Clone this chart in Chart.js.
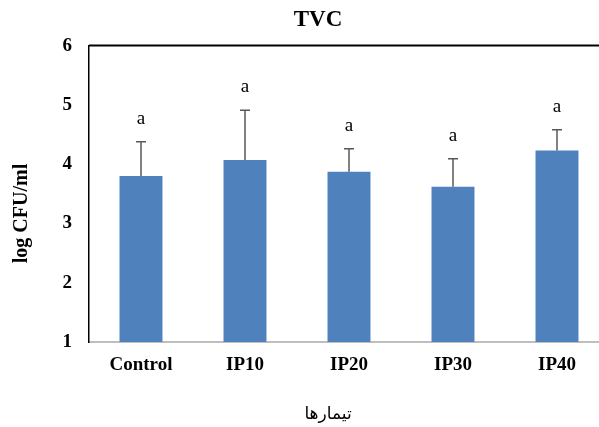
<!DOCTYPE html>
<html>
<head>
<meta charset="utf-8">
<script src="https://cdn.jsdelivr.net/npm/chart.js@4.4.1/dist/chart.umd.min.js"></script>
<style>
  html, body { margin: 0; padding: 0; background: #fff; overflow: hidden; }
  #wrap { width: 599px; height: 427px; overflow: hidden; }
</style>
</head>
<body>
<div id="wrap"><canvas id="myChart" width="636" height="427"></canvas></div>
<script>
const treatments = ['Control', 'IP10', 'IP20', 'IP30', 'IP40'];
const meanValues = [3.80, 4.07, 3.87, 3.62, 4.23];
const errorValues = [0.58, 0.84, 0.39, 0.47, 0.35];
const letters = ['a', 'a', 'a', 'a', 'a'];
const yTicks = [1, 2, 3, 4, 5, 6];

const serif = "'Liberation Serif', 'Times New Roman', 'DejaVu Sans', serif";

// error bars, letters, top frame line and axis titles
const extras = {
    id: 'extras',
    afterDatasetsDraw(chart) {
        const ctx = chart.ctx;
        const area = chart.chartArea;
        const yScale = chart.scales.y;
        const meta = chart.getDatasetMeta(0);
        ctx.save();

        // top frame line
        ctx.strokeStyle = '#000';
        ctx.lineWidth = 2;
        ctx.beginPath();
        ctx.moveTo(area.left, area.top);
        ctx.lineTo(area.right, area.top);
        ctx.stroke();

        meta.data.forEach((bar, i) => {
            const yBar = yScale.getPixelForValue(meanValues[i]);
            const yErr = yScale.getPixelForValue(meanValues[i] + errorValues[i]);
            ctx.strokeStyle = '#595959';
            ctx.lineWidth = 1.5;
            ctx.beginPath();
            ctx.moveTo(bar.x, yBar);
            ctx.lineTo(bar.x, yErr);
            ctx.moveTo(bar.x - 5, yErr);
            ctx.lineTo(bar.x + 5, yErr);
            ctx.stroke();

            ctx.fillStyle = '#000';
            ctx.font = '19px ' + serif;
            ctx.textAlign = 'center';
            ctx.textBaseline = 'middle';
            ctx.fillText(letters[i], bar.x, yErr - 23);
        });

        // axis titles
        ctx.fillStyle = '#000';
        ctx.textAlign = 'center';
        ctx.textBaseline = 'middle';
        ctx.font = 'bold 20px ' + serif;
        ctx.save();
        ctx.translate(21.5, 213.5);
        ctx.rotate(-Math.PI / 2);
        ctx.fillText('log CFU/ml', 0, 0);
        ctx.restore();

        ctx.font = '17px ' + serif;
        ctx.fillText('تیمارها', 328, 415);
        ctx.restore();
    }
};

const config = {
    type: 'bar',
    data: {
        labels: treatments,
        datasets: [{
            label: 'TVC',
            data: meanValues,
            backgroundColor: '#4F81BD',
            categoryPercentage: 1,
            barPercentage: 0.413
        }]
    },
    options: {
        responsive: false,
        animation: false,
        layout: { padding: { left: 27, right: 27, top: 0, bottom: 0 } },
        plugins: {
            legend: { display: false },
            tooltip: { enabled: false },
            title: {
                display: true,
                text: 'TVC',
                color: '#000',
                font: { family: serif, size: 23, weight: 'bold' },
                padding: { top: 6, bottom: 12 }
            }
        },
        scales: {
            x: {
                grid: { display: false, drawTicks: false },
                border: { color: '#bfbfbf', width: 2 },
                ticks: {
                    color: '#000',
                    padding: 12,
                    font: { family: serif, size: 19, weight: 'bold' }
                },
                afterFit: (scale) => { scale.height = 85; }
            },
            y: {
                min: 1,
                max: 6,
                grid: { display: false, drawTicks: false },
                border: { color: '#000', width: 1.5 },
                afterBuildTicks: (scale) => { scale.ticks = yTicks.map(v => ({ value: v })); },
                ticks: {
                    color: '#000',
                    padding: 17,
                    font: { family: serif, size: 19, weight: 'bold' }
                },
                afterFit: (scale) => { scale.width = 62; }
            }
        }
    },
    plugins: [extras]
};

new Chart(document.getElementById('myChart'), config);
</script>
</body>
</html>
